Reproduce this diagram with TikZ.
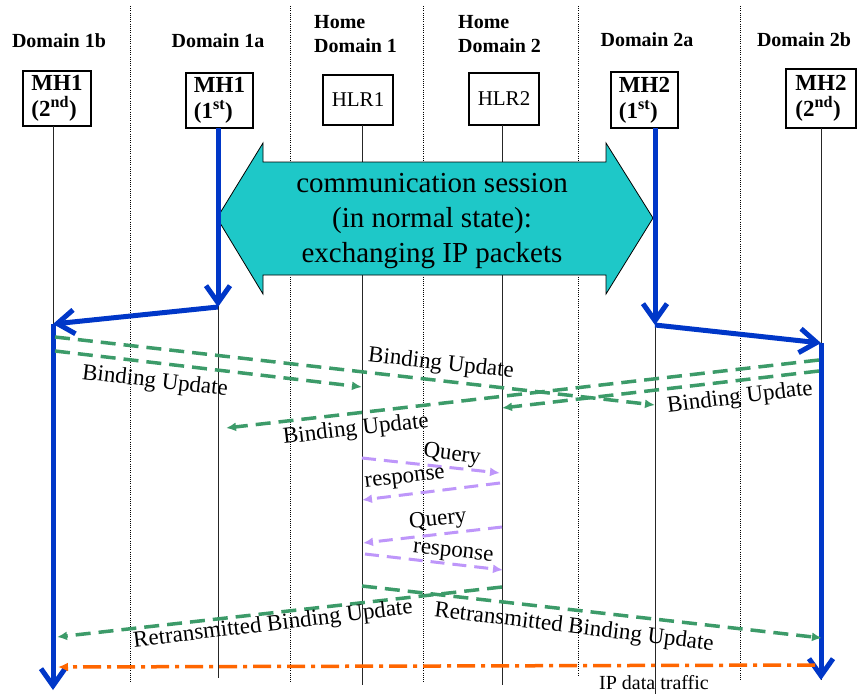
\documentclass[tikz,border=0pt]{standalone}
\usepackage{fontspec}
\setmainfont{Liberation Serif}
\usetikzlibrary{arrows.meta}
\definecolor{bluearr}{RGB}{0,55,200}
\definecolor{cyanfill}{RGB}{30,200,200}
\definecolor{bugreen}{RGB}{60,155,105}
\definecolor{qpurple}{RGB}{190,150,250}
\definecolor{iporange}{RGB}{255,102,0}
\begin{document}
\begin{tikzpicture}[x=1pt,y=-1pt,
  hdr/.style={font=\fontsize{20}{24}\selectfont\bfseries, align=left, inner sep=0pt},
  hostbox/.style={draw, line width=1.3pt, fill=white, inner sep=0pt, align=left,
    font=\fontsize{23}{26}\selectfont\bfseries},
  hlrbox/.style={draw, line width=1.3pt, fill=white, inner sep=0pt,
    font=\fontsize{21}{24}\selectfont},
  lifeline/.style={draw=black!85, line width=1pt},
  boundary/.style={draw=black, line width=0.8pt, dash pattern=on 1pt off 1.2pt},
  bluemove/.style={draw=bluearr, line width=5pt,
    -{Straight Barb[length=17pt, width=24pt, line width=5pt]}},
  bumsg/.style={draw=bugreen, line width=3.5pt, dash pattern=on 15pt off 8pt,
    -{Latex[length=10pt, width=9pt]}},
  qmsg/.style={draw=qpurple, line width=3pt, dash pattern=on 14pt off 8pt,
    -{Latex[length=10pt, width=9pt]}},
  ipmsg/.style={draw=iporange, line width=3.5pt,
    dash pattern=on 18pt off 6pt on 4pt off 6pt, -{Latex[length=10pt, width=9pt]}},
  msglabel/.style={font=\fontsize{23}{27}\selectfont, inner sep=0pt},
  sessiontext/.style={font=\fontsize{29}{35}\selectfont, align=center, inner sep=0pt}]
\useasboundingbox (0,0) rectangle (857,694);
\fill[white] (0,0) rectangle (857,694);

% domain boundaries
\foreach \x/\e in {130/682, 290/682, 423/682, 578/677, 740/680}
  \draw[boundary] (\x,6) -- (\x,\e);

% headers
\node[hdr] (h1b) at (59,41) {Domain 1b};
\node[hdr] (h1a) at (218,41) {Domain 1a};
\node[hdr, anchor=west] (hd1) at (314,34) {Home\\Domain 1};
\node[hdr, anchor=west] (hd2) at (458,34) {Home\\Domain 2};
\node[hdr] (h2a) at (647,40) {Domain 2a};
\node[hdr] (h2b) at (804,40) {Domain 2b};

% entity boxes
\node[hostbox, minimum width=68pt, minimum height=55pt] (mh1b) at (57,98.5) {MH1\\(2\textsuperscript{nd})};
\node[hostbox, minimum width=67pt, minimum height=55pt] (mh1a) at (219.5,100.5) {MH1\\(1\textsuperscript{st})};
\node[hlrbox, minimum width=70pt, minimum height=50pt] (hlr1) at (358,100) {HLR1};
\node[hlrbox, minimum width=70pt, minimum height=52pt] (hlr2) at (504,99) {HLR2};
\node[hostbox, minimum width=67pt, minimum height=56pt] (mh2a) at (644.5,100) {MH2\\(1\textsuperscript{st})};
\node[hostbox, minimum width=70pt, minimum height=59pt] (mh2b) at (821,98.5) {MH2\\(2\textsuperscript{nd})};

% lifeline coordinates
\coordinate (l1t) at (53,126);  \coordinate (l1b) at (53,680);
\coordinate (l2t) at (218,128); \coordinate (l2b) at (218,678);
\coordinate (l3t) at (362,125); \coordinate (l3b) at (362,685);
\coordinate (l4t) at (502,125); \coordinate (l4b) at (502,685);
\coordinate (l5t) at (655,128); \coordinate (l5b) at (655,694);
\coordinate (l6t) at (821,128); \coordinate (l6b) at (821,680);
\foreach \n in {1,...,6} \draw[lifeline] (l\n t) -- (l\n b);

% communication session double arrow
\draw[fill=cyanfill, draw=black, line width=0.8pt]
  (217,218) -- (263,143) -- (263,162) -- (606,162) -- (606,143) -- (653,218)
  -- (606,294) -- (606,275) -- (263,275) -- (263,294) -- cycle;
\node[sessiontext] (session) at (432,221.5) {communication session\\(in normal state):\\exchanging IP packets};

% handover movements
\coordinate (b1e) at (218,307); \coordinate (b1l) at (53,324); \coordinate (b1d) at (53,690);
\coordinate (b2e) at (655,325); \coordinate (b2r) at (821,343); \coordinate (b2d) at (821,680);
\draw[bluemove] (l2t) -- (b1e);
\draw[bluemove] (b1e) -- (b1l);
\draw[bluemove] (b1l) -- (b1d);
\draw[bluemove] (l5t) -- (b2e);
\draw[bluemove] (b2e) -- (b2r);
\draw[bluemove] (b2r) -- (b2d);

% binding updates
\coordinate (g1s) at (55,337);  \coordinate (g1e) at (655,405);
\coordinate (g2s) at (55,351);  \coordinate (g2e) at (362,387);
\coordinate (g3s) at (819,360); \coordinate (g3e) at (226,428);
\coordinate (g4s) at (819,371); \coordinate (g4e) at (502,408);
\draw[bumsg] (g1s) -- (g1e);
\draw[bumsg] (g2s) -- (g2e);
\draw[bumsg] (g3s) -- (g3e);
\draw[bumsg] (g4s) -- (g4e);
\node[msglabel, rotate=-6.4] (bu1) at (441,364) {Binding Update};
\node[msglabel, rotate=-6.6] (bu2) at (155,382) {Binding Update};
\node[msglabel, rotate=6.8] (bu3) at (740,398) {Binding Update};
\node[msglabel, rotate=6.5] (bu4) at (356,430) {Binding Update};

% query / response
\coordinate (q1s) at (362,458); \coordinate (q1e) at (500,473);
\coordinate (r1s) at (500,483); \coordinate (r1e) at (362,500);
\coordinate (q2s) at (502,527); \coordinate (q2e) at (363,543);
\coordinate (r2s) at (365,554); \coordinate (r2e) at (503,570);
\draw[qmsg] (q1s) -- (q1e);
\draw[qmsg] (r1s) -- (r1e);
\draw[qmsg] (q2s) -- (q2e);
\draw[qmsg] (r2s) -- (r2e);
\node[msglabel, rotate=-7] (ql1) at (452,455) {Query};
\node[msglabel, rotate=7] (rl1) at (405,480) {response};
\node[msglabel, rotate=6] (ql2) at (438,520) {Query};
\node[msglabel, rotate=-6] (rl2) at (453,554) {response};

% retransmitted binding updates
\coordinate (t1s) at (502,587); \coordinate (t1e) at (57,637);
\coordinate (t2s) at (362,586); \coordinate (t2e) at (822,638);
\draw[bumsg] (t1s) -- (t1e);
\draw[bumsg] (t2s) -- (t2e);
\node[msglabel, rotate=6.9] (rt1) at (273,625) {Retransmitted Binding Update};
\node[msglabel, rotate=-7] (rt2) at (574,628) {Retransmitted Binding Update};

% IP data traffic
\coordinate (o1s) at (815,665); \coordinate (o1e) at (58,667);
\draw[ipmsg] (o1s) -- (o1e);
\node[font=\fontsize{20}{24}\selectfont, inner sep=0pt] (iplabel) at (654,683) {IP data traffic};
\end{tikzpicture}
\end{document}
